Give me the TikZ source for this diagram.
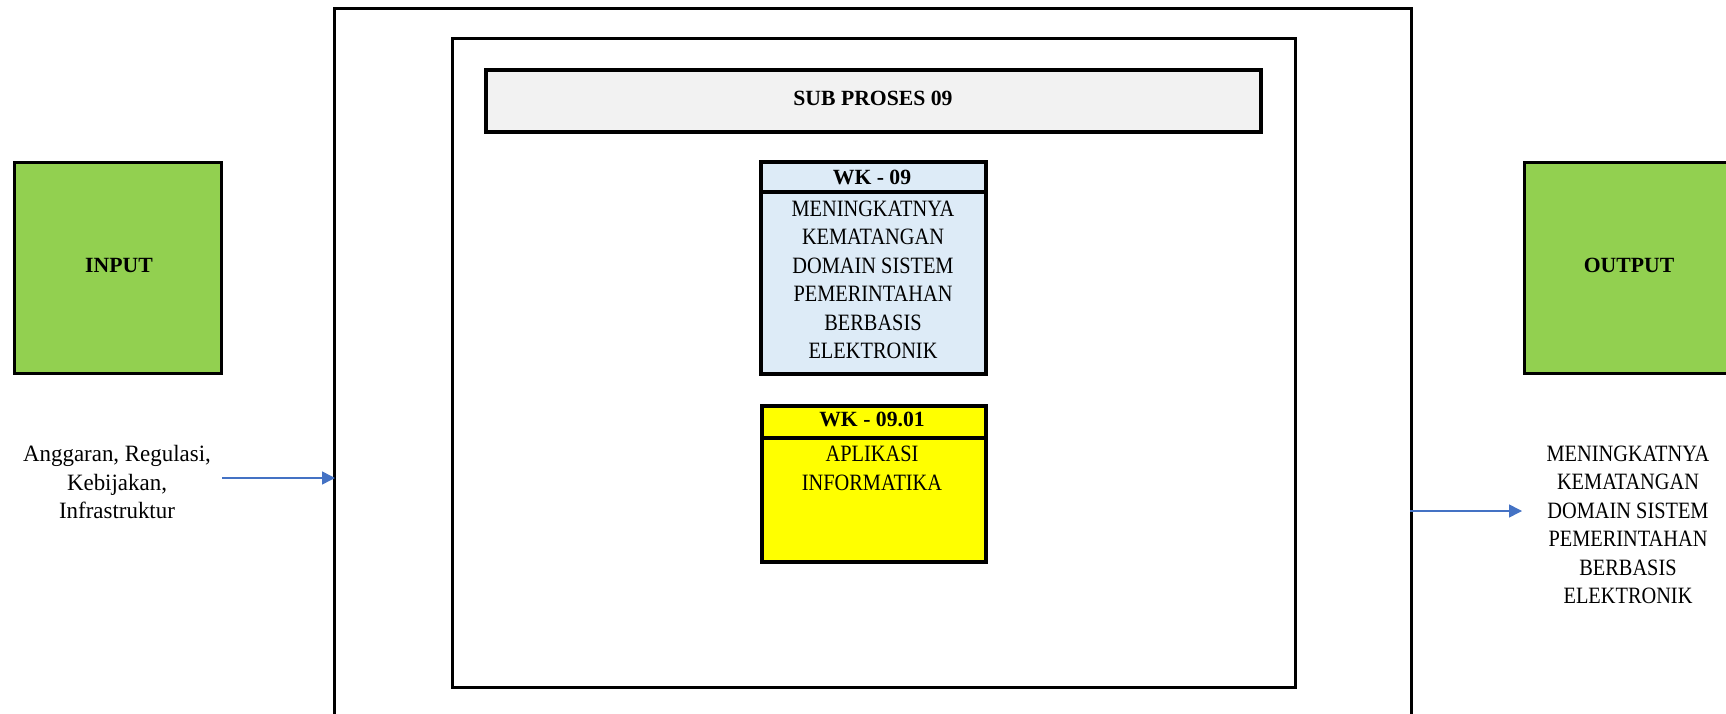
\documentclass[tikz,border=0pt]{standalone}
\usepackage{fontspec}
\setmainfont{Liberation Serif}
\newfontfamily\condfont{Liberation Serif}[FakeStretch=0.87]
\newfontfamily\lowfont{Liberation Serif}[FakeStretch=0.98]
\usetikzlibrary{arrows.meta}
\definecolor{boxgreen}{HTML}{92D050}
\definecolor{boxblue}{HTML}{DDEBF7}
\definecolor{boxgrey}{HTML}{F2F2F2}
\definecolor{boxyellow}{HTML}{FFFF00}
\definecolor{arrowblue}{HTML}{4472C4}
\tikzset{
  frame/.style={draw=black, line width=3.3pt, inner sep=0pt},
  fillbox/.style={draw=black, line width=3.8pt, inner sep=0pt},
  txt/.style={font=\condfont\fontsize{23.4}{28.5}\selectfont, align=center, inner sep=0pt},
  ltxt/.style={font=\lowfont\fontsize{23.4}{28.2}\selectfont, align=center, inner sep=0pt},
  btxt/.style={font=\fontsize{21.7}{26}\selectfont\bfseries, align=center, inner sep=0pt},
  flow/.style={draw=arrowblue, line width=1.5pt, -{Triangle[length=13pt,width=13pt]}},
}
\begin{document}
\begin{tikzpicture}[x=1pt,y=-1pt]
\useasboundingbox (0,0) rectangle (1726,714);
\clip (0,0) rectangle (1726,714);
% outer and inner frames
\node[frame, minimum width=1077, minimum height=800, anchor=north west] (outer) at (333,7) {};
\node[frame, minimum width=843, minimum height=649, anchor=north west] (inner) at (451,37) {};
% sub proses bar
\node[fillbox, fill=boxgrey, minimum width=775, minimum height=62, anchor=north west] (sub) at (484,68) {};
\node[btxt] (subtxt) at (873,98.5) {SUB PROSES 09};
% WK-09
\node[fillbox, fill=boxblue, minimum width=225, minimum height=212, anchor=north west] (wk) at (759,160) {};
\coordinate (wkdl) at (759,192);
\coordinate (wkdr) at (984,192);
\draw[line width=3.3pt] (wkdl) -- (wkdr);
\node[btxt] (wkh) at (872,177.5) {WK - 09};
\node[txt, anchor=north] (wkb) at (873,200.5) {MENINGKATNYA\\KEMATANGAN\\DOMAIN SISTEM\\PEMERINTAHAN\\BERBASIS\\ELEKTRONIK};
% WK-09.01
\node[fillbox, line width=4.2pt, fill=boxyellow, minimum width=224, minimum height=156, anchor=north west] (wka) at (760,404) {};
\coordinate (wkadl) at (760,438);
\coordinate (wkadr) at (984,438);
\draw[line width=4.2pt] (wkadl) -- (wkadr);
\node[btxt] (wkah) at (872,419) {WK - 09.01};
\node[txt, anchor=north] (wkab) at (872,446) {APLIKASI\\INFORMATIKA};
% input / output
\node[fillbox, line width=3.3pt, fill=boxgreen, minimum width=207, minimum height=211, anchor=north west] (in) at (13,161) {};
\node[btxt] (intxt) at (119,265) {INPUT};
\node[fillbox, line width=3.3pt, fill=boxgreen, minimum width=260, minimum height=211, anchor=north west] (out) at (1523,161) {};
\node[btxt] (outtxt) at (1629,265) {OUTPUT};
\node[ltxt, anchor=north] (inlbl) at (117,445.5) {Anggaran, Regulasi,\\Kebijakan,\\Infrastruktur};
\node[txt, anchor=north] (outlbl) at (1628,445.5) {MENINGKATNYA\\KEMATANGAN\\DOMAIN SISTEM\\PEMERINTAHAN\\BERBASIS\\ELEKTRONIK};
% arrows
\coordinate (ina) at (222,478);
\coordinate (inb) at (335,478);
\draw[flow] (ina) -- (inb);
\coordinate (outa) at (1410,511);
\coordinate (outb) at (1522,511);
\draw[flow] (outa) -- (outb);
\end{tikzpicture}
\end{document}
